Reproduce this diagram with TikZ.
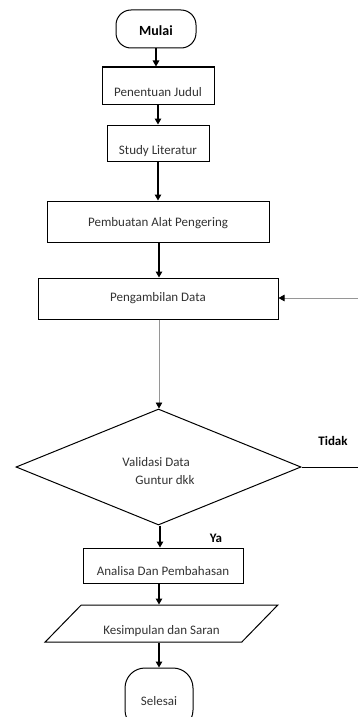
\documentclass[tikz,border=0pt]{standalone}
\usepackage{fontspec}
\setmainfont{Carlito}
\usetikzlibrary{shapes.geometric,arrows.meta}
\definecolor{txt}{RGB}{50,50,50}
\definecolor{thinline}{RGB}{150,150,150}

\begin{document}
\begin{tikzpicture}[x=1pt,y=-1pt,
  every node/.style={font=\fontsize{13}{18}\selectfont, text=txt},
  box/.style={draw=black, line width=1pt, inner sep=0pt, minimum height=37pt, text depth=0pt},
  terminal/.style={box, rounded corners=15pt},
  decision/.style={diamond, draw=black, line width=1pt, inner sep=0pt, aspect=2.46,
    minimum width=285pt, minimum height=116pt, align=left},
  iobox/.style={trapezium, draw=black, line width=1pt, inner sep=0pt,
    trapezium left angle=38.8, trapezium right angle=141.2, trapezium stretches=true,
    minimum width=233pt, minimum height=37pt, text depth=0pt},
  flow/.style={line width=1.1pt, -{Triangle[length=6pt,width=6.5pt]}},
  thinflow/.style={draw=thinline, line width=0.8pt, -{Triangle[length=6pt,width=6.5pt,color=black]}},
  answer/.style={font=\fontsize{13}{18}\selectfont\bfseries, text=black, inner sep=0pt}
]
\useasboundingbox (0,0) rectangle (358,717);
\clip (0,0) rectangle (358,717);

% process steps
\node[terminal, minimum width=80pt, minimum height=38pt, text height=14pt,
  font=\fontsize{14}{18}\selectfont\bfseries, text=black] (mulai) at (156,29) {Mulai};
\node[box, minimum width=112pt, text height=21pt] (judul) at (158,85.5) {Penentuan Judul};
\node[box, minimum width=102pt, minimum height=36pt, text height=22pt] (studi) at (158,143) {Study Literatur};
\node[box, minimum width=222pt, minimum height=41pt, text height=9pt] (alat) at (158,221.5) {Pembuatan Alat Pengering};
\node[box, minimum width=240pt, minimum height=41pt, text height=5pt] (data) at (158,298.5) {Pengambilan Data};
\node[decision] (valid) at (158.5,467) {\rule{0pt}{17pt}Validasi Data\\\hspace*{13pt}Guntur dkk};
\node[box, minimum width=160pt, minimum height=35pt, text height=19pt] (analisa) at (163,565.5) {Analisa Dan Pembahasan};
\node[iobox, text height=21pt] (saran) at (161.5,623.5) {Kesimpulan dan Saran};
\node[terminal, rounded corners=20pt, minimum width=68pt, minimum height=62pt, text height=12pt] (selesai) at (159,699) {Selesai};

% loop-back ends at the right margin
\coordinate (loopin) at (358,298);
\coordinate (loopout) at (358,467);

% connectors
\draw[flow] (mulai.south) -- (mulai.south |- judul.north);
\draw[flow] (judul.south) -- (judul.south |- studi.north);
\draw[flow] (studi.south) -- (studi.south |- alat.north);
\draw[flow] ([xshift=1pt]alat.south) -- ([xshift=1pt]alat.south |- data.north);
\draw[thinflow] ([xshift=1pt]data.south) -- ([xshift=1pt]data.south |- valid.north);
\draw[thinflow] (loopin) -- (data.east |- loopin);
\draw[line width=0.8pt] (valid.east) -- (loopout);
\draw[flow] ([xshift=1.5pt]valid.south) -- ([xshift=1.5pt]valid.south |- analisa.north);
\draw[flow] (analisa.south -| selesai.north) -- (saran.north -| selesai.north);
\draw[flow] (saran.south -| selesai.north) -- (selesai.north);

% branch labels
\node[answer] (tidak) at (333,441) {Tidak};
\node[answer] (ya) at (216,538) {Ya};
\end{tikzpicture}
\end{document}
